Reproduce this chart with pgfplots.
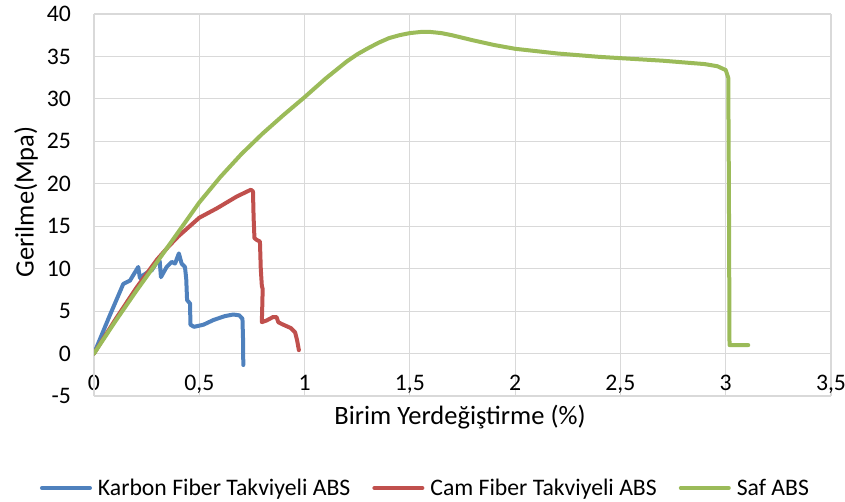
\documentclass[border=0pt]{standalone}
\usepackage{fontspec}
\setmainfont{Carlito}
\usepackage{pgfplots}
\pgfplotsset{compat=1.18}

\definecolor{serBlue}{HTML}{4F81BD}
\definecolor{serRed}{HTML}{C0504D}
\definecolor{serGreen}{HTML}{9BBB59}
\definecolor{gridgray}{HTML}{D9D9D9}
\definecolor{axisgray}{HTML}{BFBFBF}

% Karbon fiber takviyeli ABS
\pgfplotstableread{
x y
0 0
0.07 4.2
0.139 8.2
0.155 8.4
0.171 8.6
0.21 10.2
0.218 8.9
0.226 9.1
0.25 9.5
0.274 9.8
0.305 11.0
0.312 10.9
0.318 9.0
0.345 10.2
0.369 10.8
0.385 10.6
0.403 11.8
0.416 10.6
0.432 10.2
0.438 8.8
0.442 6.3
0.456 5.9
0.458 3.4
0.475 3.15
0.52 3.4
0.567 3.95
0.62 4.4
0.661 4.6
0.69 4.5
0.705 4.1
0.708 1.5
0.709 -1.35
}\karbon

% Cam fiber takviyeli ABS
\pgfplotstableread{
x y
0 0
0.1 3.95
0.2 7.7
0.3 11.1
0.35 12.5
0.4 13.8
0.45 14.9
0.5 16.0
0.583 17.1
0.678 18.5
0.745 19.3
0.755 19.1
0.758 16.0
0.762 13.6
0.772 13.4
0.788 13.2
0.792 10.0
0.797 8.0
0.801 7.6
0.799 5.5
0.797 3.7
0.82 3.9
0.85 4.3
0.867 4.3
0.875 3.7
0.89 3.5
0.935 3.0
0.955 2.5
0.965 1.5
0.973 0.4
}\cam

% Saf ABS
\pgfplotstableread{
x y
0 0
0.1 3.75
0.2 7.35
0.3 10.8
0.4 14.3
0.5 17.8
0.6 20.8
0.7 23.5
0.8 25.9
0.9 28.1
1.0 30.2
1.1 32.4
1.2 34.4
1.25 35.25
1.3 35.95
1.35 36.6
1.4 37.15
1.45 37.5
1.5 37.75
1.55 37.88
1.6 37.88
1.65 37.75
1.7 37.5
1.75 37.2
1.8 36.9
1.9 36.35
2.0 35.9
2.2 35.35
2.4 34.95
2.5 34.8
2.7 34.5
2.8 34.3
2.9 34.1
2.96 33.85
3.0 33.4
3.012 32.5
3.015 20
3.018 1.0
3.107 1.0
}\saf

\begin{document}
\begin{tikzpicture}
\useasboundingbox (0,0) rectangle (845pt,501pt);
\begin{axis}[
  at={(94pt,105pt)}, anchor=south west,
  width=737pt, height=382pt, scale only axis,
  xmin=0, xmax=3.5, ymin=-5, ymax=40,
  xtick={0,0.5,...,3.5}, ytick={-5,0,...,40},
  xticklabels={0,{0,5},1,{1,5},2,{2,5},3,{3,5}},
  yticklabels={-5,0,5,10,15,20,25,30,35,40},
  grid=major,
  major grid style={draw=gridgray, line width=1.2pt},
  axis line style={draw=none},
  tick style={draw=none},
  major tick length=0pt,
  extra x ticks={0}, extra y ticks={0},
  extra x tick labels={}, extra y tick labels={},
  extra tick style={grid style={draw=axisgray, line width=1.6pt}},
  ticklabel style={font=\fontsize{23.7}{28}\selectfont},
  xticklabel style={anchor=base, yshift=6pt, inner sep=0pt},
  yticklabel style={anchor=east, xshift=-23pt, inner sep=0pt},
  xlabel={Birim Yerdeğiştirme (\%)},
  ylabel={Gerilme(Mpa)},
  xlabel style={at={(axis description cs:0.4966,-0.0733)}, anchor=base, inner sep=0pt, font=\fontsize{26.5}{30}\selectfont},
  ylabel style={at={(axis description cs:-0.0923,0.508)}, anchor=center, inner sep=0pt, font=\fontsize{26.5}{30}\selectfont},
  legend columns=3,
  legend image code/.code={\draw[#1, line width=4pt, line cap=round] (2pt,0pt) -- (50pt,0pt);},
  legend style={draw=none, fill=none, inner sep=0pt, outer sep=0pt,
    at={(axis description cs:-0.0733,-0.2408)}, anchor=west,
    font=\fontsize{23.7}{28}\selectfont,
    nodes={inner sep=0pt},
    /tikz/every odd column/.append style={column sep=6pt},
    /tikz/every even column/.append style={column sep=22pt}},
  every axis plot/.append style={line width=4pt, line join=round, line cap=round, no markers},
]
\addplot[serBlue] table[x=x, y=y] {\karbon};
\addlegendentry{Karbon Fiber Takviyeli ABS}
\addplot[serRed] table[x=x, y=y] {\cam};
\addlegendentry{Cam Fiber Takviyeli ABS}
\addplot[serGreen] table[x=x, y=y] {\saf};
\addlegendentry{Saf ABS}
\end{axis}
\end{tikzpicture}
\end{document}
